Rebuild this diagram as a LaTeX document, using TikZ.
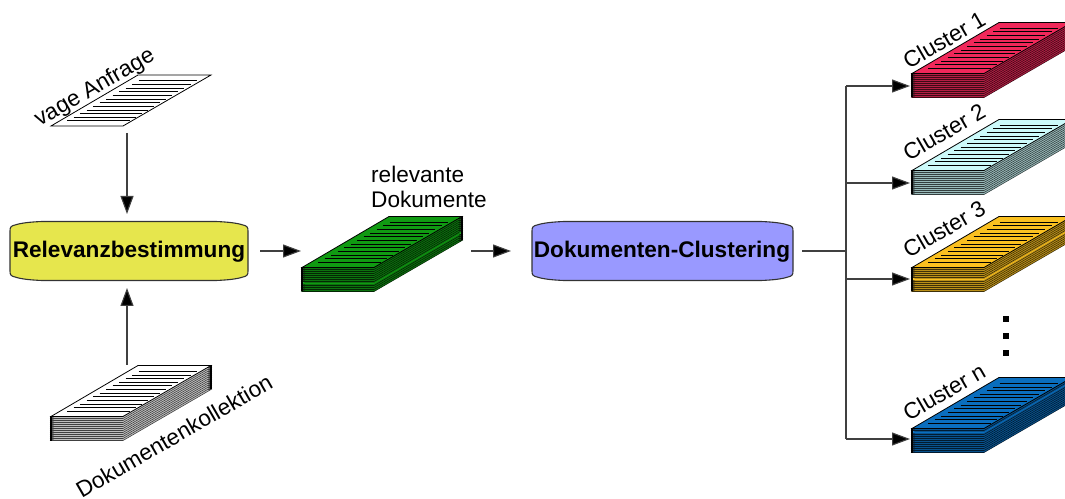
\documentclass[tikz,border=0pt]{standalone}
\usepackage{fontspec}
\setmainfont{Liberation Sans}
\usetikzlibrary{arrows.meta}
\definecolor{cyel}{HTML}{E6E64D}
\definecolor{cpur}{HTML}{9999FF}
\definecolor{cgrn}{HTML}{109A12}
\definecolor{cred}{HTML}{F0285A}
\definecolor{ccya}{HTML}{CCFAFA}
\definecolor{cora}{HTML}{FAC020}
\definecolor{cblu}{HTML}{0A6EBE}
\tikzset{
  lab/.style={font=\fontsize{22.6bp}{25bp}\selectfont,inner sep=0pt,text=black},
  rotlab/.style={lab,rotate=30},
  boldlab/.style={font=\fontsize{22.6bp}{27bp}\selectfont\bfseries,inner sep=0pt,text=black},
  conn/.style={draw=black!75,line width=1.1bp},
  arr/.style={conn,-{Triangle[length=18bp,width=13bp,fill=black]}},
  box/.style={draw=black!80,line width=1.1bp},
  sheet/.style={draw=black,line width=0.8bp},
}
% sheet with writing: #1=x of front-left, #2=y of front, #3=fill
\newcommand{\topsheet}[3]{%
  \filldraw[sheet,fill=#3] (#1,#2) -- ++(72,0) -- ++(88,-51) -- ++(-73,0) -- cycle;
  \foreach \k in {0,...,11}{
    \pgfmathsetmacro{\lx}{#1+16+\k*6.5}
    \pgfmathsetmacro{\ly}{#2-5-\k*3.65}
    \pgfmathsetmacro{\lw}{63-\k*0.45}
    \draw[black,line width=1bp] (\lx,\ly) -- ++(\lw,0);
  }}
% stack: #1=x, #2=y of top front edge, #3=fill, #4=layer without dark outline (0 = none)
\newcommand{\stackof}[4]{%
  \foreach \k in {12,...,1}{
    \def\edgecol{#3!25!black}\ifnum\k=#4 \def\edgecol{#3}\fi
    \filldraw[draw=\edgecol,line width=0.6bp,fill=#3!75!black] (#1,#2+2*\k+0.5) -- ++(72,0) -- ++(88,-51) -- ++(-73,0) -- cycle;
  }
  \draw[black,line width=1.4bp] (#1,#2) -- (#1,#2+24.5);
  \draw[black,line width=1.4bp] (#1+160,#2-51) -- (#1+160,#2-27);
  \topsheet{#1}{#2.5}{#3}}
\begin{document}
\begin{tikzpicture}[x=1bp,y=-1bp]
\useasboundingbox (0,0) rectangle (1065,499);
\begin{scope}
\clip (0,0) rectangle (1065,499);
\topsheet{51}{126}{white}
\stackof{51}{416}{white}{0}
\stackof{302}{267}{cgrn}{8}
\stackof{912}{73}{cred}{0}
\stackof{912}{170}{ccya}{0}
\stackof{912}{267}{cora}{6}
\stackof{912}{428}{cblu}{2}
\end{scope}
% process boxes
\filldraw[box,fill=cyel] (10,231) .. controls (10,227) and (11,226) .. (15,225) .. controls (21,223) and (30,222) .. (42,221.5) -- (216,221.5) .. controls (228,222) and (237,223) .. (243,225) .. controls (247,226) and (248,227) .. (248,231) -- (248,271) .. controls (248,275) and (247,276) .. (243,277) .. controls (237,279) and (228,280) .. (216,280.5) -- (42,280.5) .. controls (30,280) and (21,279) .. (15,277) .. controls (11,276) and (10,275) .. (10,271) -- cycle;
\filldraw[box,fill=cpur] (532,231) .. controls (532,227) and (533,226) .. (537,225) .. controls (543,223) and (552,222) .. (564,221.5) -- (761,221.5) .. controls (773,222) and (782,223) .. (788,225) .. controls (792,226) and (793,227) .. (793,231) -- (793,271) .. controls (793,275) and (792,276) .. (788,277) .. controls (782,279) and (773,280) .. (761,280.5) -- (564,280.5) .. controls (552,280) and (543,279) .. (537,277) .. controls (533,276) and (532,275) .. (532,271) -- cycle;
\node[boldlab] (rel) at (129,252) {Relevanzbestimmung};
\node[boldlab] (clu) at (662,252) {Dokumenten-Clustering};
% labels
\node[rotlab] (lva) at (95,88) {vage Anfrage};
\node[rotlab] (ldk) at (174,436) {Dokumentenkollektion};
\node[lab,anchor=north west,align=left] (lrd) at (371,166) {relevante\\Dokumente};
\node[rotlab] (lc1) at (944,40) {Cluster 1};
\node[rotlab] (lc2) at (944,132) {Cluster 2};
\node[rotlab] (lc3) at (944,229) {Cluster 3};
\node[rotlab] (lcn) at (944,392) {Cluster n};
% connector ends
\coordinate (a1) at (127,133);
\coordinate (a2) at (127,214);
\coordinate (b1) at (127,365);
\coordinate (b2) at (127,288);
\coordinate (c1) at (260,251);
\coordinate (c2) at (301,251);
\coordinate (d1) at (471,251);
\coordinate (d2) at (511,251);
\coordinate (e1) at (802,251);
\coordinate (e2) at (846,251);
\coordinate (t1) at (846,86);
\coordinate (t2) at (846,183);
\coordinate (t3) at (846,279);
\coordinate (t4) at (846,439);
\coordinate (h1) at (910,86);
\coordinate (h2) at (910,183);
\coordinate (h3) at (910,279);
\coordinate (h4) at (910,439);
\draw[arr] (a1) -- (a2);
\draw[arr] (b1) -- (b2);
\draw[arr] (c1) -- (c2);
\draw[arr] (d1) -- (d2);
\draw[conn] (e1) -- (e2);
\draw[conn] (t1) -- (t4);
\draw[arr] (t1) -- (h1);
\draw[arr] (t2) -- (h2);
\draw[arr] (t3) -- (h3);
\draw[arr] (t4) -- (h4);
% ellipsis dots
\foreach \yy in {319.5,336.5,353.5}{\fill[black] (1002.5,\yy-3) rectangle ++(6,6);}
\end{tikzpicture}
\end{document}
